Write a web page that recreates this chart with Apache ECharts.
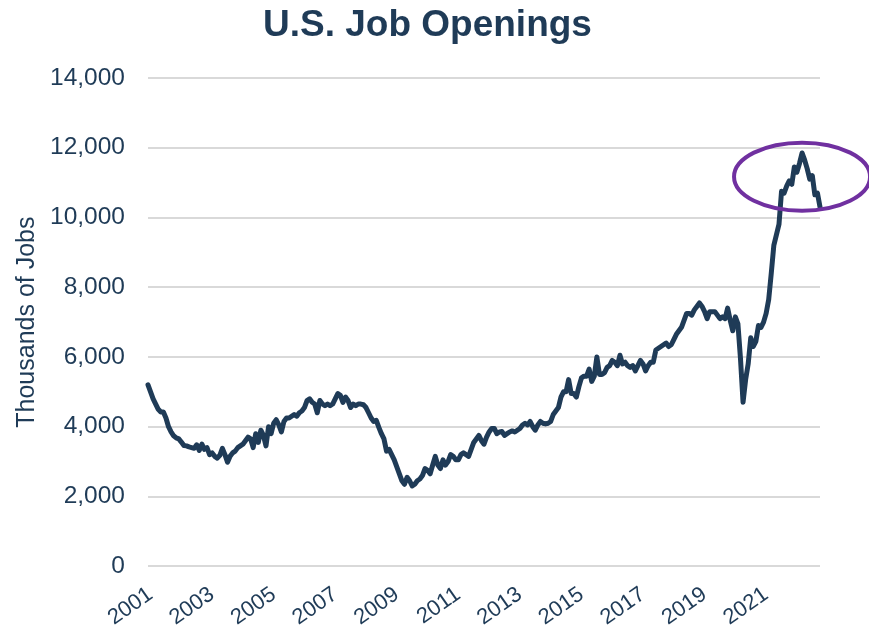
<!DOCTYPE html>
<html>
<head>
<meta charset="utf-8">
<script src="https://cdn.jsdelivr.net/npm/echarts@6/dist/echarts.min.js"></script>
<style>
  html, body { margin: 0; padding: 0; background: #fff; }
  #container_line { width: 869px; height: 631px; }
</style>
</head>
<body>
<div id="container_line"></div>
<script>
// JOLTS job openings, thousands, monthly from Dec 2000 to Oct 2022
const dec2000 = [5200];
const y2001 = [5000, 4800, 4650, 4500, 4420, 4420, 4250, 4000, 3850, 3740, 3680, 3650];
const y2002 = [3560, 3460, 3450, 3420, 3400, 3380, 3480, 3320, 3500, 3350, 3400, 3200];
const y2003 = [3250, 3150, 3100, 3180, 3380, 3200, 2980, 3150, 3250, 3300, 3400, 3450];
const y2004 = [3500, 3600, 3700, 3650, 3400, 3800, 3550, 3900, 3750, 3450, 4000, 3800];
const y2005 = [4100, 4200, 4050, 3850, 4150, 4250, 4250, 4300, 4350, 4300, 4400, 4450];
const y2006 = [4550, 4750, 4800, 4700, 4650, 4400, 4750, 4650, 4600, 4650, 4600, 4650];
const y2007 = [4800, 4950, 4900, 4700, 4850, 4750, 4550, 4650, 4600, 4650, 4650, 4630];
const y2008 = [4550, 4400, 4250, 4150, 4180, 3980, 3800, 3650, 3300, 3350, 3200, 3050];
const y2009 = [2850, 2650, 2450, 2350, 2550, 2450, 2300, 2350, 2450, 2500, 2600, 2800];
const y2010 = [2750, 2650, 2900, 3150, 2900, 2800, 3050, 2900, 3000, 3200, 3150, 3050];
const y2011 = [3050, 3200, 3250, 3200, 3150, 3350, 3550, 3650, 3750, 3600, 3500, 3700];
const y2012 = [3850, 3950, 3950, 3800, 3850, 3860, 3750, 3800, 3850, 3880, 3850, 3900];
const y2013 = [3950, 4050, 4100, 4050, 4150, 4000, 3900, 4050, 4150, 4100, 4080, 4100];
const y2014 = [4150, 4350, 4450, 4550, 4850, 5000, 5000, 5350, 4950, 4950, 4850, 5150];
const y2015 = [5400, 5450, 5450, 5650, 5300, 5450, 6000, 5500, 5500, 5550, 5700, 5750];
const y2016 = [5900, 5850, 5750, 6050, 5800, 5850, 5750, 5700, 5750, 5600, 5750, 5900];
const y2017 = [5800, 5600, 5750, 5850, 5850, 6200, 6250, 6300, 6350, 6400, 6300, 6350];
const y2018 = [6500, 6650, 6750, 6850, 7050, 7250, 7250, 7200, 7350, 7450, 7550, 7450];
const y2019 = [7300, 7100, 7300, 7300, 7300, 7200, 7100, 7150, 7100, 7400, 7050, 6750];
const y2020 = [7150, 6950, 5950, 4700, 5350, 5800, 6550, 6300, 6450, 6900, 6850, 7000];
const y2021 = [7250, 7650, 8400, 9200, 9500, 9800, 10750, 10700, 10900, 11050, 10950, 11450];
const y2022 = [11300, 11550, 11850, 11650, 11400, 11100, 11200, 10650, 10700, 10300];

const yearLabels = ['2001', '2003', '2005', '2007', '2009', '2011', '2013', '2015', '2017', '2019', '2021'];

const openings = [].concat(dec2000, y2001, y2002, y2003, y2004, y2005, y2006, y2007, y2008,
    y2009, y2010, y2011, y2012, y2013, y2014, y2015, y2016, y2017, y2018, y2019, y2020,
    y2021, y2022);

const months = [];
for (let i = 0; i < openings.length; i++) {
    const m = 11 + i;
    const year = 2000 + Math.floor(m / 12);
    months.push(year + '-' + String(m % 12 + 1).padStart(2, '0'));
}

const navy = '#1f3b57';

function drawLineChart() {
    const myChart = echarts.init(document.getElementById('container_line'), null, {
        renderer: 'canvas'
    });
    const option = {
        animation: false,
        title: {
            text: 'U.S. Job Openings',
            left: 258,
            top: 2,
            textStyle: {
                color: navy,
                fontSize: 37,
                fontWeight: 'bold',
                fontFamily: 'Liberation Sans'
            }
        },
        grid: {
            left: 148,
            right: 49,
            top: 78,
            bottom: 63
        },
        xAxis: {
            type: 'category',
            data: months,
            boundaryGap: false,
            axisLine: { show: false },
            axisTick: { show: false },
            axisLabel: {
                interval: function (index, value) {
                    return value.slice(5) === '01' && yearLabels.indexOf(value.slice(0, 4)) >= 0;
                },
                rotate: 35,
                margin: 26,
                color: navy,
                fontSize: 22,
                fontFamily: 'Liberation Sans',
                formatter: function (value) {
                    return value.slice(0, 4);
                }
            },
            splitLine: { show: false }
        },
        yAxis: {
            type: 'value',
            min: 0,
            max: 14000,
            interval: 2000,
            name: 'Thousands of Jobs',
            nameLocation: 'middle',
            nameGap: 103,
            nameTextStyle: {
                color: navy,
                fontSize: 25,
                fontFamily: 'Liberation Sans'
            },
            axisLine: { show: false },
            axisTick: { show: false },
            axisLabel: {
                margin: 23,
                color: navy,
                fontSize: 24.5,
                fontFamily: 'Liberation Sans',
                formatter: function (v) {
                    return v.toLocaleString('en-US');
                }
            },
            splitLine: {
                lineStyle: { color: '#d9d9d9', width: 2 }
            }
        },
        series: [{
            name: 'Job Openings',
            type: 'line',
            data: openings,
            showSymbol: false,
            lineStyle: {
                color: navy,
                width: 5,
                join: 'round',
                cap: 'round'
            }
        }]
    };
    myChart.setOption(option);

    // purple ring around the 2022 peak
    let peakIdx = 0;
    openings.forEach(function (v, i) { if (v > openings[peakIdx]) peakIdx = i; });
    const center = myChart.convertToPixel({ gridIndex: 0 }, [peakIdx, 11170]);
    myChart.setOption({
        graphic: [{
            type: 'ellipse',
            shape: { cx: center[0], cy: center[1], rx: 68, ry: 34 },
            style: { fill: 'none', stroke: '#7030a0', lineWidth: 4 },
            z: 100
        }]
    });
}

drawLineChart();
</script>
</body>
</html>
